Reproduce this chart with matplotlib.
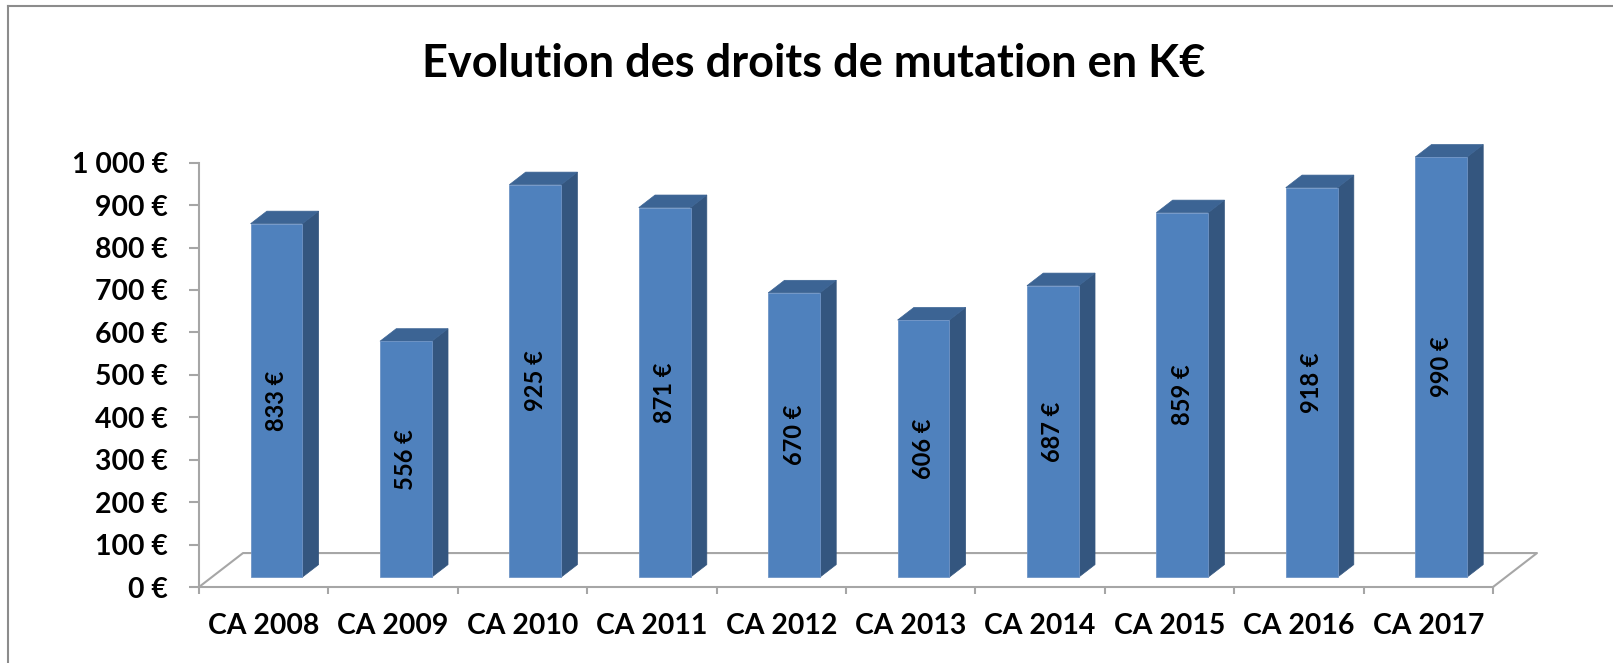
import matplotlib.pyplot as plt
from matplotlib.patches import Polygon
from matplotlib.lines import Line2D
from matplotlib.ticker import FuncFormatter, MultipleLocator

# --- data -------------------------------------------------------------
categories = ['CA 2008', 'CA 2009', 'CA 2010', 'CA 2011', 'CA 2012',
              'CA 2013', 'CA 2014', 'CA 2015', 'CA 2016', 'CA 2017']
values = [833, 556, 925, 871, 670, 606, 687, 859, 918, 990]
title = 'Evolution des droits de mutation en K€'

# --- style ------------------------------------------------------------
plt.rcParams['font.family'] = ['Lato', 'DejaVu Sans']
plt.rcParams['font.weight'] = 'bold'

FRONT = '#4f81bd'
SIDE = '#34567f'
TOP = '#3c6494'
GRID = '#a6a6a6'

# fake 3D: depth vector of the floor in data units (category, value)
DX, DY = 0.34, 80.0
D0, D1 = 0.29, 0.66      # bar front / back depth
BW = 0.40                # bar width

W, H = 1613, 663
fig = plt.figure(figsize=(W / 100, H / 100), dpi=100)
ax = fig.add_axes([199 / W, (H - 587) / H, 1294 / W, 424.3 / H])
ax.set_xlim(0, len(categories))
ax.set_ylim(0, 1000)
ax.patch.set_alpha(0)

for s in ['top', 'right']:
    ax.spines[s].set_visible(False)
ax.spines['left'].set_color(GRID)
ax.spines['bottom'].set_color(GRID)
ax.spines['left'].set_linewidth(1.5)
ax.spines['bottom'].set_linewidth(1.5)

# floor outline
n = len(categories)
ax.plot([0, DX, n + DX, n], [0, DY, DY, 0], color=GRID, lw=1.5,
        clip_on=False, zorder=1)

# bars
xs = [i + 0.5 for i in range(n)]
ax.bar([x + D0 * DX for x in xs], values, width=BW, bottom=D0 * DY,
       color=FRONT, edgecolor='#6f94c6', linewidth=0.6, zorder=3, clip_on=False)
for x, v in zip(xs, values):
    xl = x - BW / 2 + D0 * DX
    xr = x + BW / 2 + D0 * DX
    yb = D0 * DY
    yt = D0 * DY + v
    ddx = (D1 - D0) * DX
    ddy = (D1 - D0) * DY
    side = Polygon([(xr, yb), (xr + ddx, yb + ddy), (xr + ddx, yt + ddy), (xr, yt)],
                   closed=True, facecolor=SIDE, edgecolor=SIDE, lw=0.5,
                   zorder=2, clip_on=False)
    top = Polygon([(xl, yt), (xl + ddx, yt + ddy), (xr + ddx, yt + ddy), (xr, yt)],
                  closed=True, facecolor=TOP, edgecolor=TOP, lw=0.5,
                  zorder=2, clip_on=False)
    ax.add_patch(side)
    ax.add_patch(top)
    ax.text(x + D0 * DX, yb + v / 2, f'{v} €', rotation=90, ha='center',
            va='center', fontsize=17, fontweight='bold', color='black', zorder=4)

# axes ticks
ax.yaxis.set_major_locator(MultipleLocator(100))
ax.yaxis.set_major_formatter(FuncFormatter(
    lambda v, p: f'{int(v):,} €'.replace(',', ' ')))
ax.tick_params(axis='y', length=7.2, width=1.5, color=GRID, pad=15,
               labelsize=20.4)
ax.set_xticks(xs)
ax.set_xticklabels(categories, fontsize=20.4, fontweight='bold')
ax.set_xticks(range(n + 1), minor=True)
ax.tick_params(axis='x', which='major', length=0, pad=19)
ax.tick_params(axis='x', which='minor', length=5, width=1.5, color=GRID)
for lab in ax.get_yticklabels():
    lab.set_fontweight('bold')

fig.text(814 / W, 1 - 64 / H, title, ha='center', va='center',
         fontsize=32.5, fontweight='bold')

# chart frame (left and top edges visible)
fig.add_artist(Line2D([8 / W, 8 / W], [0, 1 - 6 / H], color='#8c8c8c', lw=1.5))
fig.add_artist(Line2D([8 / W, 1], [1 - 6 / H, 1 - 6 / H], color='#8c8c8c', lw=1.5))

fig.savefig('out.png', dpi=100)
